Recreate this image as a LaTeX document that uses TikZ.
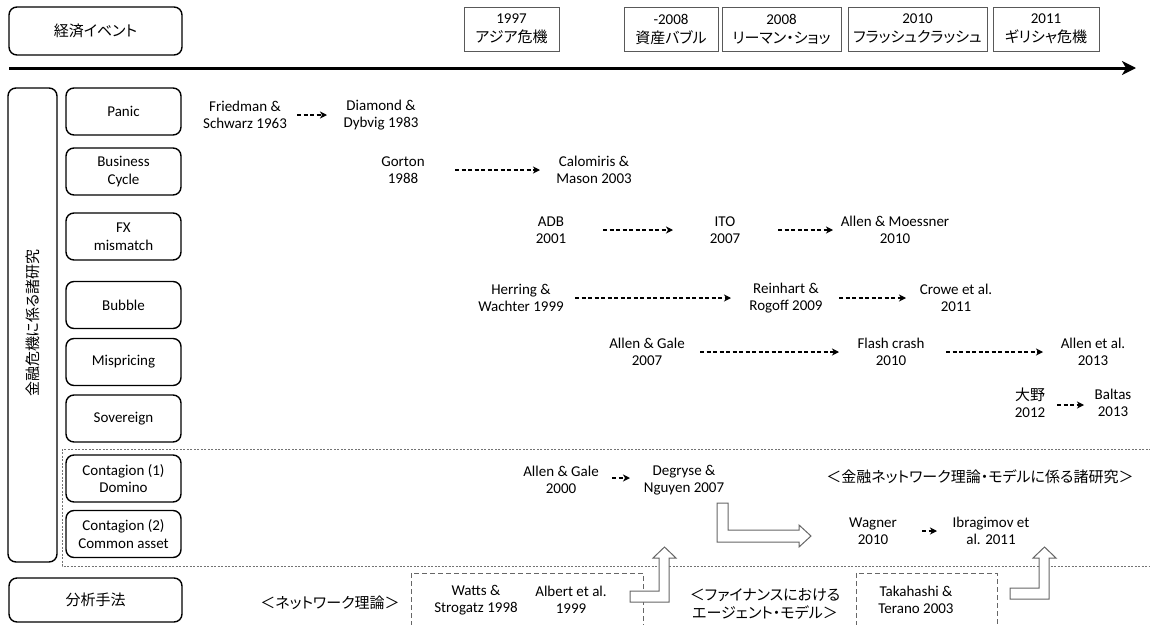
\documentclass[tikz,border=0pt]{standalone}
\usepackage{fontspec}
\setmainfont{Carlito}
\newfontfamily\jp[RawFeature=+palt]{Noto Sans CJK JP}
\usetikzlibrary{arrows.meta}
\newcommand\latf{\fontsize{15}{17.5}\selectfont}
\newcommand\jpf{\jp\fontsize{15}{18}\selectfont}
\tikzset{
  rbox/.style={draw=black, line width=1.4pt, rounded corners=8pt, inner sep=0pt, align=center, font=\latf},
  ebox/.style={draw=black!65, line width=0.9pt, inner sep=0pt, align=center, font=\fontsize{15}{19}\selectfont, minimum height=44pt},
  tx/.style={align=center, inner sep=0pt, font=\latf},
  jt/.style={align=center, inner sep=0pt, font=\jpf},
  da/.style={line width=1.6pt, dash pattern=on 4pt off 2.5pt, -{Stealth[length=7pt,width=7pt,inset=2pt]}},
  hol/.style={draw=black!60, fill=white, line width=1pt, line join=miter},
  dreg/.style={draw=black!55, line width=0.8pt, dash pattern=on 2pt off 1.5pt},
  dbox/.style={draw=black!60, line width=0.9pt, dash pattern=on 5pt off 3pt},
}
\begin{document}
\begin{tikzpicture}[x=1pt,y=-1pt]
\useasboundingbox (0,0) rectangle (1150,624);
% header
\node[rbox, minimum width=173pt, minimum height=48pt, font=\jpf] (econ) at (95.5,31) {経済イベント};
\node[ebox, minimum width=95pt] (ev1) at (511.5,29) {1997\\{\jp アジア危機}};
\node[ebox, minimum width=94pt] (ev2) at (671,29) {-2008\\{\jp 資産バブル}};
\node[ebox, minimum width=119pt] (ev3) at (781.5,29) {2008\\{\jp リーマン・ショッ}};
\node[ebox, minimum width=139pt] (ev4) at (917.5,29) {2010\\{\jp フラッシュクラッシュ}};
\node[ebox, minimum width=106pt] (ev5) at (1046,29) {2011\\{\jp ギリシャ危機}};
\coordinate (tl0) at (9,68);
\coordinate (tl1) at (1136,68);
\draw[line width=3pt, -{Stealth[length=14pt,width=14pt,inset=4pt]}] (tl0) -- (tl1);
% left column
\node[rbox, minimum width=49pt, minimum height=474pt] (big) at (32.5,325) {};
\node[jt, rotate=90] (bigt) at (33,323) {金融危機に係る諸研究};
\node[rbox, minimum width=115pt, minimum height=47pt] (c1) at (123.5,111.5) {Panic};
\node[rbox, minimum width=115pt, minimum height=47pt] (c2) at (123.5,171.5) {Business\\Cycle};
\node[rbox, minimum width=115pt, minimum height=47pt] (c3) at (123.5,236.5) {FX\\mismatch};
\node[rbox, minimum width=115pt, minimum height=47pt] (c4) at (123.5,305) {Bubble};
\node[rbox, minimum width=115pt, minimum height=47pt] (c5) at (123.5,362) {Mispricing};
\node[rbox, minimum width=115pt, minimum height=47pt] (c6) at (123.5,418.5) {Sovereign};
\node[rbox, minimum width=115pt, minimum height=47pt] (c7) at (123.5,478.5) {Contagion (1)\\Domino};
\node[rbox, minimum width=115pt, minimum height=47pt] (c8) at (123.5,534) {Contagion (2)\\Common asset};
\node[rbox, minimum width=173pt, minimum height=44pt, font=\jpf] (meth) at (95.5,600) {分析手法};
% dashed regions
\draw[dreg] (1151,449) -- (62,449) -- (62,566) -- (1151,566);
\draw[dbox] (411,626) -- (411,573) -- (643,573) -- (643,626);
\draw[dbox] (856,626) -- (856,573) -- (997,573) -- (997,626);
% Panic
\node[tx] (fs) at (245,115) {Friedman \&\\Schwarz 1963};
\node[tx] (dd) at (381,115) {Diamond \&\\Dybvig 1983};
\draw[da] ([xshift=52pt]fs.center) -- ([xshift=-54pt]dd.center);
% Business cycle
\node[tx] (go) at (403,170) {Gorton\\1988};
\node[tx] (cm) at (594,170) {Calomiris \&\\Mason 2003};
\draw[da] ([xshift=52pt]go.center) -- ([xshift=-54pt]cm.center);
% FX
\node[tx] (adb) at (551,230) {ADB\\2001};
\node[tx] (ito) at (725,230) {ITO\\2007};
\node[tx] (am) at (895,230) {Allen \& Moessner\\2010};
\draw[da] ([xshift=52pt]adb.center) -- ([xshift=-52pt]ito.center);
\draw[da] ([xshift=53pt]ito.center) -- ([xshift=-62pt]am.center);
% Bubble
\node[tx] (hw) at (521,298) {Herring \&\\Wachter 1999};
\node[tx] (rr) at (786,298) {Reinhart \&\\Rogoff 2009};
\node[tx] (cr) at (956,298) {Crowe et al.\\2011};
\draw[da] ([xshift=54pt]hw.center) -- ([xshift=-55pt]rr.center);
\draw[da] ([xshift=53pt]rr.center) -- ([xshift=-50pt]cr.center);
% Mispricing
\node[tx] (ag7) at (647,352) {Allen \& Gale\\2007};
\node[tx] (fc) at (891,352) {Flash crash\\2010};
\node[tx] (ae) at (1093,352) {Allen et al.\\2013};
\draw[da] ([xshift=53pt]ag7.center) -- ([xshift=-52pt]fc.center);
\draw[da] ([xshift=55pt]fc.center) -- ([xshift=-50pt]ae.center);
% Sovereign
\node[tx] (on) at (1030,403) {{\jp 大野}\\2012};
\node[tx] (ba) at (1113,403) {Baltas\\2013};
\draw[da] ([xshift=27pt,yshift=-2pt]on.center) -- ([xshift=-29pt,yshift=-2pt]ba.center);
% Contagion 1
\node[tx] (ag0) at (561,480) {Allen \& Gale\\2000};
\node[tx] (dn) at (684,480) {Degryse \&\\Nguyen 2007};
\draw[da] ([xshift=51pt,yshift=2pt]ag0.center) -- ([xshift=-54pt,yshift=2pt]dn.center);
\node[jt] (lab1) at (980,477) {＜金融ネットワーク理論・モデルに係る諸研究＞};
% Contagion 2
\node[tx] (wa) at (873,531) {Wagner\\2010};
\node[tx] (ib) at (991,531) {Ibragimov et\\al. 2011};
\draw[da] ([xshift=49pt]wa.center) -- ([xshift=-54pt]ib.center);
% bottom
\node[jt] (lab2) at (330,603) {＜ネットワーク理論＞};
\node[tx] (ws) at (476,600) {Watts \&\\Strogatz 1998};
\node[tx] (al) at (571,600) {Albert et al.\\1999};
\node[jt, font=\jp\fontsize{15}{18}\selectfont] (lab3) at (765,604) {＜ファイナンスにおける\\エージェント・モデル＞};
\node[tx] (tt) at (916,600) {Takahashi \&\\Terano 2003};
% hollow arrows
\draw[hol] (717,503) -- (728,503) -- (728,530) -- (799,530) -- (799,525) -- (811,536) -- (799,547) -- (799,542) -- (717,542) -- cycle;
\draw[hol] (630,591) -- (659,591) -- (659,558) -- (653,558) -- (664.5,547) -- (676,558) -- (669,558) -- (669,602) -- (630,602) -- cycle;
\draw[hol] (1010,588) -- (1039,588) -- (1039,558) -- (1033,558) -- (1044.5,547) -- (1056,558) -- (1049,558) -- (1049,599) -- (1010,599) -- cycle;
\end{tikzpicture}
\end{document}
